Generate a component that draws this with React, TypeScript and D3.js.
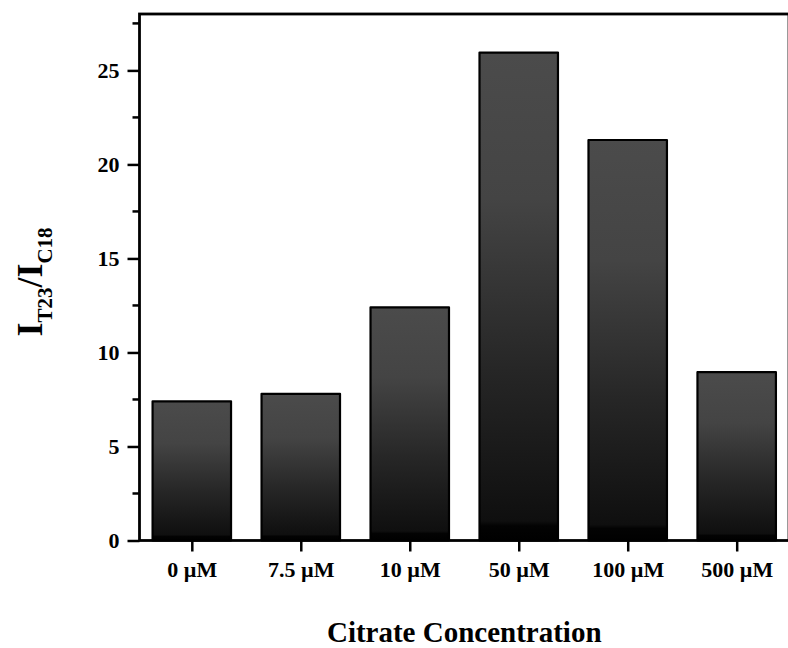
import { useEffect, useRef } from "react";
import { select, scaleLinear, scalePoint, axisLeft, axisBottom } from "d3";

const categories = ["0 µM", "7.5 µM", "10 µM", "50 µM", "100 µM", "500 µM"];
const ratios = [7.4, 7.8, 12.4, 25.95, 21.3, 8.95];
const yMajorTicks = [0, 5, 10, 15, 20, 25];
const yMinorTicks = [2.5, 7.5, 12.5, 17.5, 22.5, 27.5];

const FONT = "'Liberation Serif', 'Times New Roman', serif";

const drawChart = (
  ref: SVGSVGElement,
  size = { w: 788, h: 648, m: { t: 14, r: 789, b: 540.5, l: 139.5 } }
) => {
  const svg = select(ref);
  svg.selectAll("*").remove();

  const x = scalePoint<string>()
    .domain(categories)
    .range([size.m.l, size.m.r])
    .padding(0.48);
  const y = scaleLinear().domain([0, 28]).range([size.m.b, size.m.t]);
  const bw = x.step() * 0.72;

  // bar gradient, dark grey on top fading to black
  const grad = svg
    .append("defs")
    .append("linearGradient")
    .attr("id", "barFill")
    .attr("x1", 0)
    .attr("y1", 0)
    .attr("x2", 0)
    .attr("y2", 1);
  [
    [0, "#4b4b4b"],
    [0.3, "#444444"],
    [0.65, "#262626"],
    [0.96, "#0f0f0f"],
    [0.97, "#030303"],
    [1, "#000000"],
  ].forEach(([o, c]) => grad.append("stop").attr("offset", o).attr("stop-color", c));

  svg
    .append("g")
    .selectAll("rect")
    .data(categories)
    .join("rect")
    .attr("x", (d) => x(d)! - bw / 2)
    .attr("y", (d, i) => y(ratios[i]))
    .attr("width", bw)
    .attr("height", (d, i) => y(0) - y(ratios[i]))
    .attr("fill", "url(#barFill)")
    .attr("stroke", "#000")
    .attr("stroke-width", 2.2)
    .attr("stroke-linejoin", "round");

  // y axis
  const gy = svg
    .append("g")
    .attr("transform", `translate(${size.m.l},0)`)
    .call(
      axisLeft(y)
        .tickValues(yMajorTicks)
        .tickSize(12)
        .tickPadding(8)
        .tickFormat((d) => String(d))
    );
  gy.select(".domain").remove();
  gy.selectAll("line").attr("stroke", "#000").attr("stroke-width", 2.5);
  gy.selectAll("text")
    .attr("font-family", FONT)
    .attr("font-size", 22)
    .attr("font-weight", "bold")
    .attr("fill", "#000");

  gy.selectAll(".minor")
    .data(yMinorTicks)
    .join("line")
    .attr("class", "minor")
    .attr("x1", -7)
    .attr("x2", 0)
    .attr("y1", (d) => y(d))
    .attr("y2", (d) => y(d))
    .attr("stroke", "#000")
    .attr("stroke-width", 2.5);

  // x axis
  const gx = svg
    .append("g")
    .attr("transform", `translate(0,${size.m.b})`)
    .call(axisBottom(x).tickSize(11).tickPadding(10));
  gx.select(".domain").remove();
  gx.selectAll("line").attr("stroke", "#000").attr("stroke-width", 2.5);
  gx.selectAll("text")
    .attr("font-family", FONT)
    .attr("font-size", 22)
    .attr("font-weight", "bold")
    .attr("fill", "#000");

  // frame
  svg
    .append("rect")
    .attr("x", size.m.l)
    .attr("y", size.m.t)
    .attr("width", size.m.r - size.m.l)
    .attr("height", size.m.b - size.m.t)
    .attr("fill", "none")
    .attr("stroke", "#000")
    .attr("stroke-width", 2.8);

  // axis titles
  svg
    .append("text")
    .attr("x", (size.m.l + size.m.r) / 2)
    .attr("y", 642)
    .attr("text-anchor", "middle")
    .attr("font-family", FONT)
    .attr("font-size", 29)
    .attr("font-weight", "bold")
    .text("Citrate Concentration");

  const yt = svg
    .append("text")
    .attr("transform", `translate(42,282) rotate(-90)`)
    .attr("text-anchor", "middle")
    .attr("font-family", FONT)
    .attr("font-size", 36)
    .attr("font-weight", "bold");
  yt.append("tspan").text("I");
  yt.append("tspan").attr("font-size", 21).attr("dy", 10).text("T23");
  yt.append("tspan").attr("dy", -10).text("/");
  yt.append("tspan").text("I");
  yt.append("tspan").attr("font-size", 21).attr("dy", 10).text("C18");
};

export default function App() {
  const ref = useRef<SVGSVGElement>(null);

  useEffect(() => {
    if (ref.current) drawChart(ref.current);
  }, []);

  return (
    <svg
      ref={ref}
      width={788}
      height={648}
      style={{ position: "absolute", left: 0, top: 0, background: "#fff" }}
    />
  );
}
